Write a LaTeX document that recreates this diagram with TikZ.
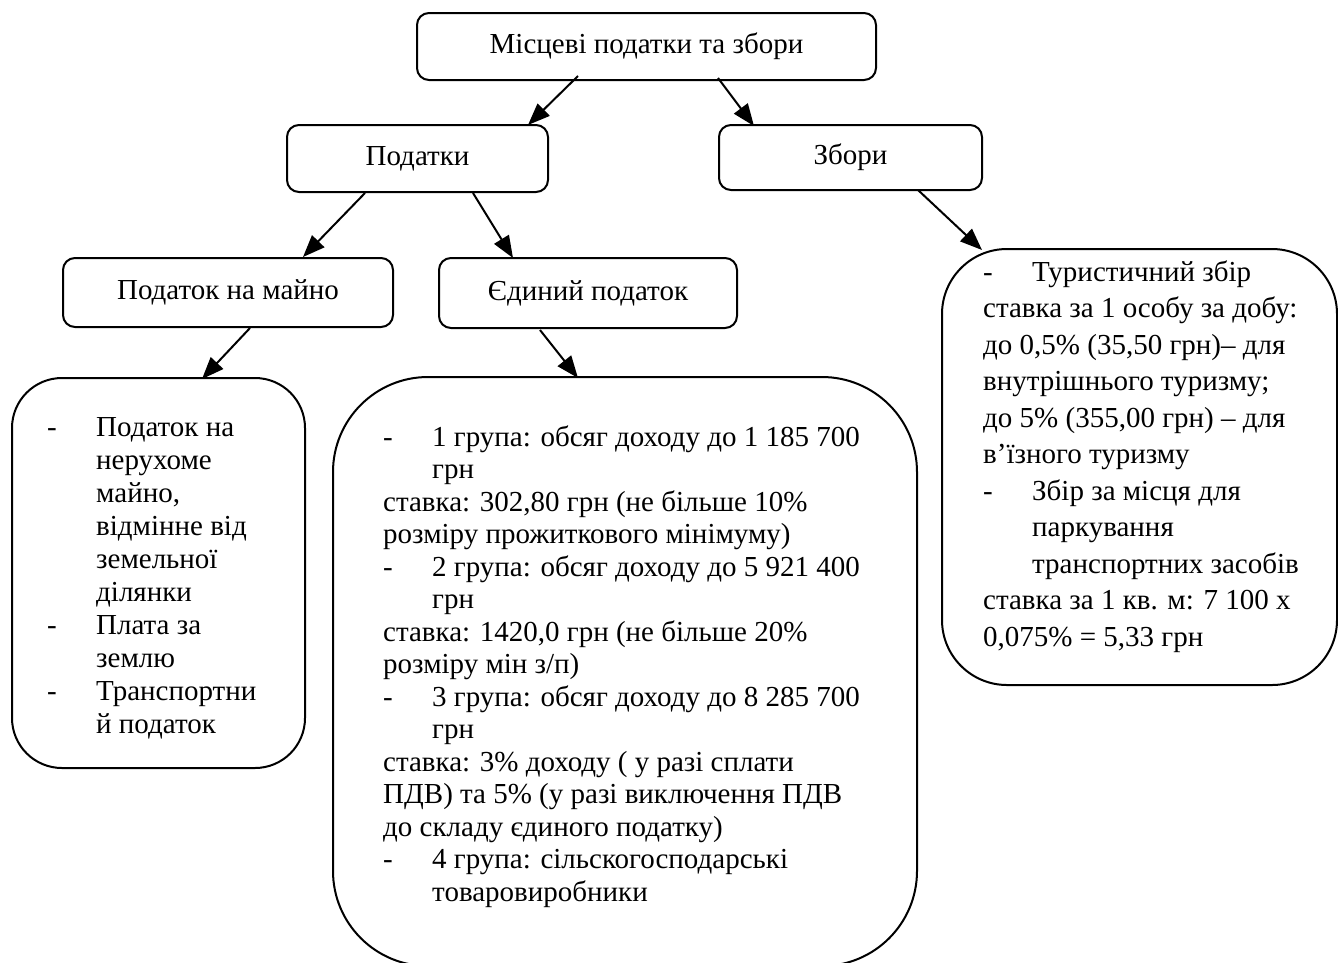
\documentclass[tikz,border=0pt]{standalone}
\usepackage{fontspec}
\setmainfont{Liberation Serif}
\usetikzlibrary{arrows.meta}
\newcommand{\bul}{\makebox[49pt][l]{-}}
\newcommand{\ind}{\hspace*{49pt}}
\begin{document}
\begin{tikzpicture}[x=1pt,y=-1pt,
  box/.style={draw, line width=2pt, rounded corners=12pt, inner sep=0pt, font=\fontsize{29}{33}\selectfont},
  bigbox/.style={draw, line width=2pt, inner sep=0pt},
  txt/.style={inner sep=0pt, anchor=base west, font=\fontsize{29}{33}\selectfont},
  arr/.style={line width=2pt, -{Triangle[length=22pt,width=17pt]}}]
\useasboundingbox (0,0) rectangle (1338,962);

\node[box, minimum width=459pt, minimum height=67pt] (top) at (646.5,46.5) {Місцеві податки та збори};
\node[box, minimum width=261pt, minimum height=67pt] (pod) at (417.5,158.5) {Податки};
\node[box, minimum width=263pt, minimum height=65pt] (zb) at (850.5,157.5) {Збори};
\node[box, minimum width=330pt, minimum height=69pt] (mayno) at (228,292.5) {Податок на майно};
\node[box, minimum width=298pt, minimum height=70pt] (ed) at (588,293) {Єдиний податок};

\node[bigbox, rounded corners=50pt, minimum width=293pt, minimum height=390pt] (lbox) at (158.5,573) {};
\node[bigbox, rounded corners=95pt, minimum width=584pt, minimum height=589pt] (bbox) at (625,671.5) {};
\node[bigbox, rounded corners=65pt, minimum width=395pt, minimum height=436pt] (rbox) at (1139.5,467) {};

\node[txt] (ltext) at (47,436) {\begin{tabular}[t]{@{}l@{}}
\bul Податок на\\
\ind нерухоме\\
\ind майно,\\
\ind відмінне від\\
\ind земельної\\
\ind ділянки\\
\bul Плата за\\
\ind землю\\
\bul Транспортни\\
\ind й податок
\end{tabular}};

\node[txt, font=\fontsize{29}{32.5}\selectfont] (btext) at (383,446) {\begin{tabular}[t]{@{}l@{}}
\bul 1 група: обсяг доходу до 1 185 700\\
\ind грн\\
ставка: 302,80 грн (не більше 10\%\\
розміру прожиткового мінімуму)\\
\bul 2 група: обсяг доходу до 5 921 400\\
\ind грн\\
ставка: 1420,0 грн (не більше 20\%\\
розміру мін з/п)\\
\bul 3 група: обсяг доходу до 8 285 700\\
\ind грн\\
ставка: 3\% доходу ( у разі сплати\\
ПДВ) та 5\% (у разі виключення ПДВ\\
до складу єдиного податку)\\
\bul 4 група: сільскогосподарські\\
\ind товаровиробники
\end{tabular}};

\node[txt, font=\fontsize{29}{36.5}\selectfont] (rtext) at (983,281) {\begin{tabular}[t]{@{}l@{}}
\bul Туристичний збір\\
ставка за 1 особу за добу:\\
до 0,5\% (35,50 грн)– для\\
внутрішнього туризму;\\
до 5\% (355,00 грн) – для\\
в’їзного туризму\\
\bul Збір за місця для\\
\ind паркування\\
\ind транспортних засобів\\
ставка за 1 кв. м: 7 100 х\\
0,075\% = 5,33 грн
\end{tabular}};

\coordinate (a1s) at (578,76);  \coordinate (a1e) at (528,125);
\coordinate (a2s) at (718,78);  \coordinate (a2e) at (754,126);
\coordinate (a3s) at (365,193); \coordinate (a3e) at (303,257);
\coordinate (a4s) at (473,193); \coordinate (a4e) at (513,258);
\coordinate (a5s) at (918,190); \coordinate (a5e) at (982,250);
\coordinate (a6s) at (250,328); \coordinate (a6e) at (202,379);
\coordinate (a7s) at (540,330); \coordinate (a7e) at (578,378);

\draw[arr] (a1s) -- (a1e);
\draw[arr] (a2s) -- (a2e);
\draw[arr] (a3s) -- (a3e);
\draw[arr] (a4s) -- (a4e);
\draw[arr] (a5s) -- (a5e);
\draw[arr] (a6s) -- (a6e);
\draw[arr] (a7s) -- (a7e);
\end{tikzpicture}
\end{document}
